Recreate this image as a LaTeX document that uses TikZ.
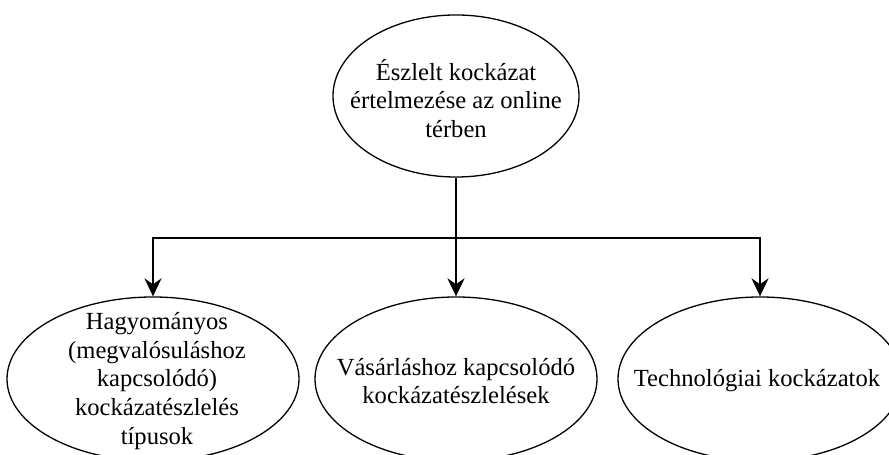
\documentclass[tikz,border=0pt]{standalone}
\usepackage{fontspec}
\setmainfont{Liberation Serif}
\usetikzlibrary{shapes.geometric,arrows.meta}
\begin{document}
\begin{tikzpicture}[x=1bp,y=-1bp,
  bubble/.style={ellipse, draw=black, line width=1.3bp, inner sep=0pt},
  caption/.style={align=center, inner sep=0pt, font=\fontsize{24.6bp}{28.7bp}\selectfont},
  link/.style={line width=1.9bp, -{Stealth[length=18bp,width=17bp,inset=6bp]}}]
\useasboundingbox (0,0) rectangle (889,455);
\clip (0,0) rectangle (889,455);

% ellipses
\node[bubble, minimum width=246bp, minimum height=162bp] (top) at (456,96) {};
\node[bubble, minimum width=292bp, minimum height=164bp] (left) at (153,379) {};
\node[bubble, minimum width=282bp, minimum height=164bp] (mid) at (456,379) {};
\node[bubble, minimum width=284bp, minimum height=164bp] (right) at (760,379) {};

% texts
\node[caption] (topT) at (456,98.5) {Észlelt kockázat\\értelmezése az online\\térben};
\node[caption] (leftT) at (157,381) {Hagyományos\\(megvalósuláshoz\\kapcsolódó)\\kockázatészlelés\\típusok};
\node[caption] (midT) at (456,381) {Vásárláshoz kapcsolódó\\kockázatészlelések};
\node[caption] (rightT) at (757,381) {Technológiai kockázatok};

% connectors
\coordinate (split) at (456,238);
\draw[line width=1.9bp] (top.south) -- (split);
\draw[link] (split) -- (mid.north);
\draw[link] (split) -| (left.north);
\draw[link] (split) -| (right.north);
\end{tikzpicture}
\end{document}
